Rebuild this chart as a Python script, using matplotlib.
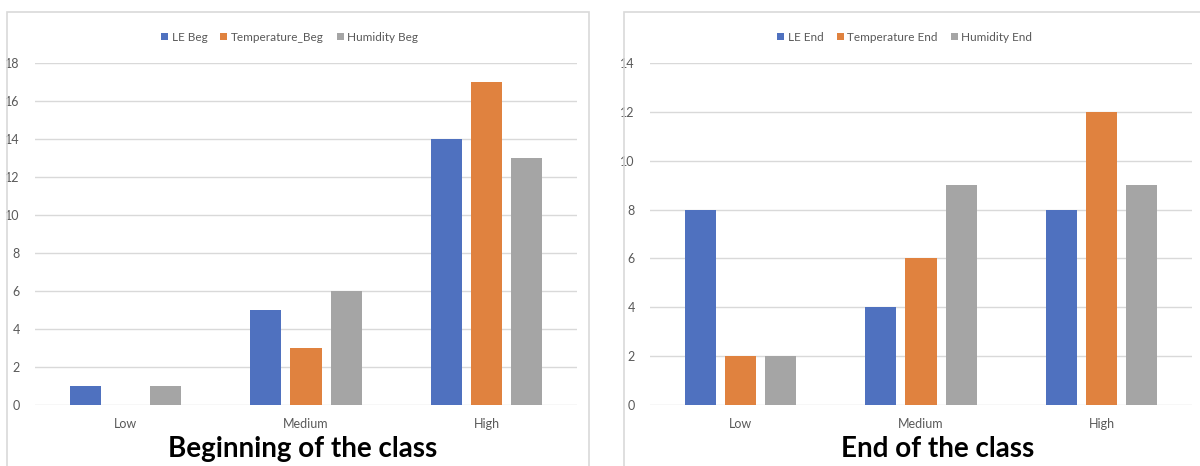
import matplotlib.pyplot as plt
from matplotlib.patches import Rectangle
import numpy as np

# datos
categorias = ['Low', 'Medium', 'High']
le_beg = [1, 5, 14]
temp_beg = [0, 3, 17]
hum_beg = [1, 6, 13]
le_end = [8, 4, 8]
temp_end = [2, 6, 12]
hum_end = [2, 9, 9]

azul = '#4F71BF'
naranja = '#E0823F'
gris = '#A5A5A5'
texto = '#595959'

plt.rcParams['font.family'] = ['Lato', 'DejaVu Sans']

fig = plt.figure(figsize=(12, 4.66), dpi=100)

# marcos de cada grafica
for x0, w in [(7 / 1200, 582 / 1200), (624 / 1200, 600 / 1200)]:
    fig.patches.append(Rectangle((x0, -0.02), w, 1 - 12 / 466 + 0.02,
                                 transform=fig.transFigure, fill=False,
                                 edgecolor='#D9D9D9', linewidth=1.2))

x = np.arange(len(categorias))
ancho = 0.172
paso = 0.222


def grafica(pos, series, nombres, ymax, titulo, tx):
    ax = fig.add_axes(pos)
    for i, (vals, color, nombre) in enumerate(zip(series, [azul, naranja, gris], nombres)):
        ax.bar(x + (i - 1) * paso, vals, ancho, color=color, label=nombre, zorder=3)
    ax.set_xlim(-0.5, 2.5)
    ax.set_ylim(0, ymax)
    ax.set_yticks(np.arange(0, ymax + 1, 2))
    ax.set_xticks(x)
    ax.set_xticklabels(categorias)
    ax.grid(axis='y', color='#D9D9D9', linewidth=1, zorder=0)
    for s in ax.spines.values():
        s.set_visible(False)
    ax.tick_params(axis='both', length=0, labelsize=9, labelcolor=texto)
    ax.tick_params(axis='y', pad=11)
    ax.tick_params(axis='x', pad=9)
    ax.legend(loc='center', bbox_to_anchor=(0.47, 1.076), ncol=3, frameon=False,
              fontsize=8.5, labelcolor=texto, handlelength=0.6, handleheight=0.6,
              handletextpad=0.3, columnspacing=1.1)
    fig.text(tx, 1 - 449 / 466, titulo, ha='center', va='center',
             fontsize=20, fontweight='bold', color='black')
    return ax


alto = (405 - 63) / 466
abajo = 1 - 405 / 466
grafica([35 / 1200, abajo, 542 / 1200, alto], [le_beg, temp_beg, hum_beg],
        ['LE Beg', 'Temperature_Beg', 'Humidity Beg'], 18,
        'Beginning of the class', 303 / 1200)
grafica([650 / 1200, abajo, 542 / 1200, alto], [le_end, temp_end, hum_end],
        ['LE End', 'Temperature End', 'Humidity End'], 14,
        'End of the class', 938 / 1200)

plt.savefig('out.png', dpi=100)
plt.close()
